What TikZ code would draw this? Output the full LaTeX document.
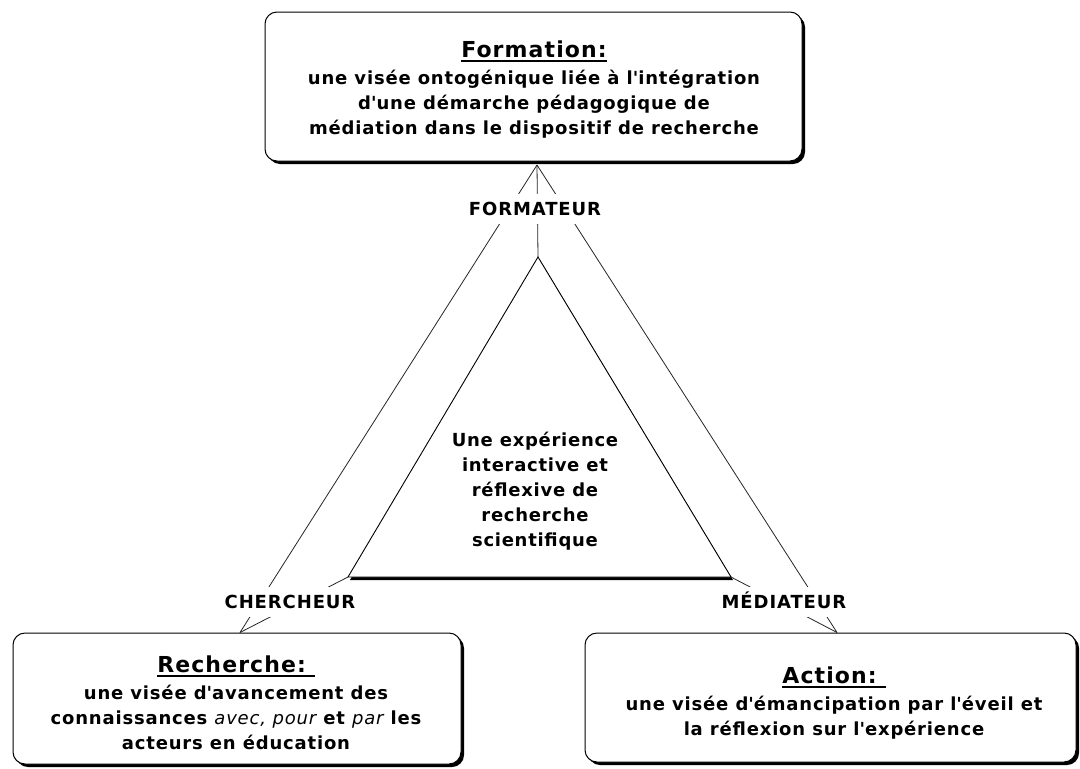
\documentclass[tikz,border=0pt]{standalone}
\usepackage{fontspec}
\setmainfont{DejaVu Sans}
\usetikzlibrary{shadows,calc}
% straight apostrophe
\newcommand{\qsing}{\textquotesingle}
% underlined heading with a heavy rule
\newcommand{\headline}[1]{\setbox0\hbox{#1}\rlap{\rule[-4.5pt]{\wd0}{2pt}}\box0}
% spaced-out bold sans at a given size
\newcommand{\spaced}[3]{\fontsize{#1}{#2}\selectfont\bfseries\addfontfeatures{LetterSpace=#3}}
\begin{document}
\begin{tikzpicture}[x=1pt,y=-1pt,
  box/.style={draw=black, line width=1pt, fill=white, rounded corners=12pt, inner sep=0pt,
    drop shadow={shadow xshift=3pt, shadow yshift=-3pt, fill=black, opacity=1}},
  boxtext/.style={font=\spaced{18}{25}{4.5}, align=center, inner sep=0pt},
  coretext/.style={font=\spaced{18}{25}{4}, align=center, inner sep=0pt},
  role/.style={font=\spaced{18}{20}{5}, fill=white, inner xsep=3pt, inner ysep=0pt,
    text height=13.5pt, text depth=0pt, minimum height=30pt},
  link/.style={line width=0.8pt, black!85},
]
\useasboundingbox (0,0) rectangle (1080,769);
\fill[white] (0,0) rectangle (1080,769);

% the three boxes
\node[box, minimum width=537pt, minimum height=149pt] (formation) at (533.5,86.5) {};
\node[boxtext] (formationtext) at (534,90) {%
  {\spaced{22}{25}{5}\headline{Formation:}}\\[2pt]
  une visée ontogénique liée à l\qsing intégration\\
  d\qsing une démarche pédagogique de\\
  médiation dans le dispositif de recherche};

\node[box, minimum width=448pt, minimum height=131pt] (recherche) at (237,698.5) {};
\node[boxtext] (recherchetext) at (236,703) {%
  {\spaced{22}{25}{5}\headline{Recherche:\ }}\\[2pt]
  une visée d\qsing avancement des\\
  connaissances {\mdseries\itshape\addfontfeatures{LetterSpace=4.5}avec, pour} et {\mdseries\itshape\addfontfeatures{LetterSpace=4.5}par} les\\
  acteurs en éducation};

\node[box, minimum width=491pt, minimum height=129pt] (action) at (830.5,697.5) {};
\node[boxtext] (actiontext) at (834,703) {%
  {\spaced{22}{25}{5}\headline{Action:\ }}\\[2pt]
  une visée d\qsing émancipation par l\qsing éveil et\\
  la réflexion sur l\qsing expérience};

% inner triangle with its shadow
\coordinate (tA) at (538,257);
\coordinate (tB) at (348,577);
\coordinate (tC) at (731,577);
\fill[black] ($(tA)+(2,3)$) -- ($(tB)+(2,3)$) -- ($(tC)+(2,3)$) -- cycle;
\filldraw[fill=white, draw=black, line width=0.9pt] (tA) -- (tB) -- (tC) -- cycle;
\node[coretext] (core) at (535,491) {Une expérience\\interactive et\\réflexive de\\recherche\\scientifique};

% meeting points on the boxes
\coordinate (vF) at ($(formation.south)+(3.5,3.5)$);
\coordinate (vR) at ($(recherche.north)+(3,0)$);
\coordinate (vA) at ($(action.north)+(6.5,0)$);

% connectors
\draw[link] (vF) -- (vR);
\draw[link] (vF) -- (vA);
\draw[link] (vF) -- (tA);
\draw[link] (tB) -- (vR);
\draw[link] (tC) -- (vA);

% role labels over the connectors
\node[role] (formateur) at (535,209) {FORMATEUR};
\node[role] (chercheur) at (290,602) {CHERCHEUR};
\node[role] (mediateur) at (784,602) {MÉDIATEUR};
\end{tikzpicture}
\end{document}
